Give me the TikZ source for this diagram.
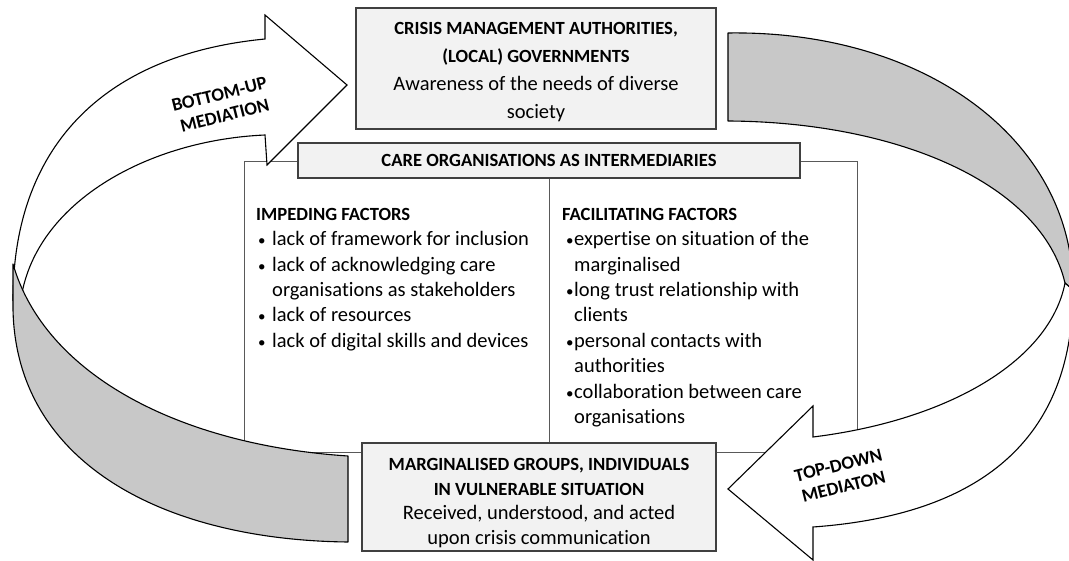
\documentclass[tikz,border=0pt]{standalone}
\usepackage{fontspec}
\setmainfont{Carlito}[Ligatures=NoCommon]
\definecolor{boxfill}{HTML}{F2F2F2}
\definecolor{boxline}{HTML}{404040}
\definecolor{frameline}{HTML}{595959}
\definecolor{bandfill}{HTML}{C8C8C8}
\newcommand\hb[2][25.4]{{\bfseries\fontsize{18.6}{#1}\selectfont #2}}
\newcommand\smallbul{{\fontsize{15}{15}\selectfont\textbullet}}
\newcommand\bulA{\hspace*{2pt}\makebox[14pt][l]{\smallbul}}
\newcommand\contA{\hspace*{16pt}}
\newcommand\bulB{\hspace*{4pt}\makebox[8pt][l]{\smallbul}}
\newcommand\contB{\hspace*{12pt}}
\tikzset{
  box/.style={draw=boxline, fill=boxfill, line width=1.2pt, inner sep=0pt, align=center},
  boxtext/.style={align=center, inner sep=0pt, anchor=north},
  frame/.style={draw=frameline, line width=1pt},
  band/.style={draw=black, fill=bandfill, line width=1.1pt, line join=round},
  arrowbody/.style={draw=black, fill=white, line width=1.1pt, line join=miter},
  boldtext/.style={font=\fontsize{18.6}{22}\selectfont\bfseries},
  col/.style={align=left, inner sep=0pt, anchor=north west, font=\fontsize{20.5}{25.4}\selectfont},
}
\begin{document}
\begin{tikzpicture}[x=1pt,y=-1pt]
\useasboundingbox[fill=white] (0,0) rectangle (1069,561);

% frame of the care organisations panel
\coordinate (fTL) at (244,162);
\coordinate (fBR) at (857,452);
\draw[frame] (fTL) rectangle (fBR);

% top box
\node[box, minimum width=360pt, minimum height=121pt] (auth) at (536,68.5) {};
\node[boxtext, font=\fontsize{20.5}{28}\selectfont] (authtxt) at (536,22)
  {\hb[28]{CRISIS MANAGEMENT AUTHORITIES,}\\ \hb[28]{(LOCAL) GOVERNMENTS}\\
   Awareness of the needs of diverse\\ society};

% header
\node[box, minimum width=502pt, minimum height=35pt, boldtext] (care) at (549,160.5)
  {CARE ORGANISATIONS AS INTERMEDIARIES};
\draw[frame] (care.south) -- (care.south |- fBR);

% bottom box
\node[box, minimum width=354pt, minimum height=108pt] (marg) at (539,497) {};
\node[boxtext, font=\fontsize{20.5}{24.5}\selectfont] (margtxt) at (539,458.5)
  {\hb[24]{MARGINALISED GROUPS, INDIVIDUALS}\\ \hb[25.5]{IN VULNERABLE SITUATION}\\
   Received, understood, and acted\\ upon crisis communication};

% columns
\node[col] (imp) at (256,208)
  {\hb{IMPEDING FACTORS}\\
   \bulA lack of framework for inclusion\\
   \bulA lack of acknowledging care\\
   \contA organisations as stakeholders\\
   \bulA lack of resources\\
   \bulA lack of digital skills and devices};

\node[col] (fac) at (562,208)
  {\hb{FACILITATING FACTORS}\\
   \bulB expertise on situation of the\\
   \contB marginalised\\
   \bulB long trust relationship with\\
   \contB clients\\
   \bulB personal contacts with\\
   \contB authorities\\
   \bulB collaboration between care\\
   \contB organisations};

% bottom-up arrow (left): white front, then grey back side over its tail
\draw[arrowbody] (22,293) .. controls (40,200) and (150,140) .. (265,135)
  -- (267,165) -- (347,85) -- (265,15) -- (265,39)
  .. controls (100,55) and (13,150) .. (13,300) -- cycle;
\draw[band] (13,264) -- (13,300) .. controls (10,460) and (160,540) .. (348,542)
  -- (348,456) .. controls (180,445) and (45,375) .. (13,264) -- cycle;

% top-down arrow (right)
\draw[band] (728,33) .. controls (925,30) and (1073,140) .. (1073,290)
  -- (1065,283) .. controls (1042,185) and (900,122) .. (728,121) -- cycle;
\draw[arrowbody] (1073,290) .. controls (1073,440) and (980,515) .. (813,527)
  -- (813,560) -- (728,489) -- (813,406) -- (813,437)
  .. controls (950,420) and (1050,360) .. (1065,283) -- cycle;

% arrow labels
\node[boldtext, align=center, rotate=14] (bu) at (222,105) {BOTTOM-UP\\MEDIATION};
\node[boldtext, align=center, rotate=14] (td) at (841,476) {TOP-DOWN\\MEDIATON};
\end{tikzpicture}
\end{document}
